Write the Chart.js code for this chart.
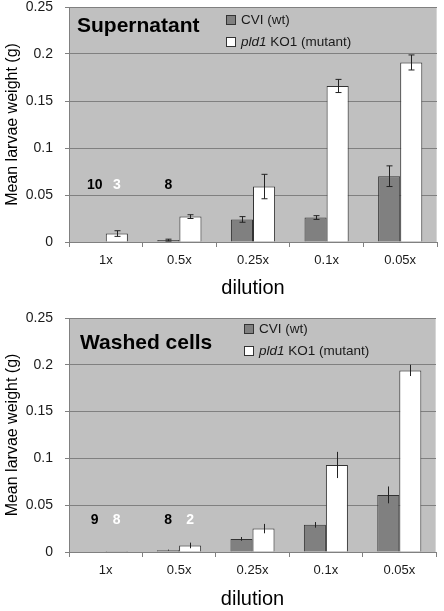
<!DOCTYPE html>
<html>
<head>
<meta charset="utf-8">
<script src="https://cdn.jsdelivr.net/npm/chart.js@4/dist/chart.umd.min.js"></script>
<style>
    body { margin: 0; background: #ffffff; }
    #top { position: absolute; left: 0; top: 0; }
    #bottom { position: absolute; left: 0; top: 300px; }
</style>
</head>
<body>
<canvas id="top" width="444" height="300"></canvas>
<canvas id="bottom" width="444" height="311"></canvas>
<script>
var categories = ['1x', '0.5x', '0.25x', '0.1x', '0.05x'];
var seriesNames = ['CVI (wt)', 'pld1 KO1 (mutant)'];
var yTicks = [0, 0.05, 0.1, 0.15, 0.2, 0.25];

// Supernatant
var supCvi = [0.0005, 0.002, 0.024, 0.026, 0.070];
var supCviErr = [0, 0.001, 0.003, 0.002, 0.011];
var supMut = [0.009, 0.027, 0.059, 0.166, 0.191];
var supMutErr = [0.003, 0.002, 0.013, 0.007, 0.008];
var supCviN = ['10', '8', '', '', ''];
var supMutN = ['3', '', '', '', ''];

// Washed cells
var washCvi = [0.0005, 0.002, 0.014, 0.029, 0.061];
var washCviErr = [0, 0.0005, 0.002, 0.003, 0.009];
var washMut = [0.001, 0.007, 0.025, 0.093, 0.194];
var washMutErr = [0, 0.003, 0.005, 0.014, 0.006];
var washCviN = ['9', '8', '', '', ''];
var washMutN = ['8', '2', '', '', ''];

Chart.defaults.font.family = '"Liberation Sans", Arial, sans-serif';
Chart.defaults.color = '#1a1a1a';

var panelPlugin = {
    id: 'panel',
    beforeDraw: function(chart) {
        var a = chart.chartArea, ctx = chart.ctx;
        ctx.save();
        ctx.fillStyle = '#c0c0c0';
        ctx.fillRect(a.left, a.top, a.right - a.left, a.bottom - a.top);
        ctx.strokeStyle = '#d6d6d6';
        ctx.lineWidth = 1;
        ctx.beginPath();
        ctx.moveTo(a.left, a.top + 0.5);
        ctx.lineTo(a.right - 0.5, a.top + 0.5);
        ctx.lineTo(a.right - 0.5, a.bottom);
        ctx.stroke();
        ctx.restore();
    },
    afterDatasetsDraw: function(chart) {
        var o = chart.options.plugins.panel, ctx = chart.ctx;
        var y = chart.scales.y;
        ctx.save();
        // error bars
        ctx.strokeStyle = '#222';
        ctx.lineWidth = 1;
        chart.data.datasets.forEach(function(ds, i) {
            var meta = chart.getDatasetMeta(i);
            meta.data.forEach(function(bar, j) {
                var e = ds.err[j];
                if (!e) return;
                var x = Math.round(bar.x) + 0.5;
                var y1 = y.getPixelForValue(ds.data[j] + e);
                var y2 = y.getPixelForValue(ds.data[j] - e);
                ctx.beginPath();
                ctx.moveTo(x, y1);
                ctx.lineTo(x, y2);
                if (o.cap) {
                    ctx.moveTo(x - o.cap, y1);
                    ctx.lineTo(x + o.cap, y1);
                    ctx.moveTo(x - o.cap, y2);
                    ctx.lineTo(x + o.cap, y2);
                }
                ctx.stroke();
            });
        });
        // sample counts
        ctx.font = 'bold 14px "Liberation Sans", Arial, sans-serif';
        ctx.textAlign = 'center';
        ctx.textBaseline = 'middle';
        chart.data.datasets.forEach(function(ds, i) {
            var meta = chart.getDatasetMeta(i);
            ctx.fillStyle = ds.countColor;
            meta.data.forEach(function(bar, j) {
                if (ds.counts[j]) ctx.fillText(ds.counts[j], bar.x, y.getPixelForValue(o.countY));
            });
        });
        // panel title
        ctx.fillStyle = '#000';
        ctx.textAlign = 'left';
        ctx.font = 'bold 21px "Liberation Sans", Arial, sans-serif';
        ctx.fillText(o.title, o.titleX, o.titleY);
        // legend
        chart.data.datasets.forEach(function(ds, i) {
            var ly = o.legendY + i * 22;
            ctx.fillStyle = ds.backgroundColor;
            ctx.fillRect(o.legendX, ly - 5, 10, 10);
            ctx.strokeStyle = '#333';
            ctx.strokeRect(o.legendX + 0.5, ly - 4.5, 9, 9);
            ctx.fillStyle = '#1a1a1a';
            var tx = o.legendX + 15;
            var label = ds.label;
            if (label.indexOf('pld1') === 0) {
                ctx.font = 'italic 13.5px "Liberation Sans", Arial, sans-serif';
                ctx.fillText('pld1', tx, ly);
                tx += ctx.measureText('pld1').width;
                label = label.substring(4);
            }
            ctx.font = '13.5px "Liberation Sans", Arial, sans-serif';
            ctx.fillText(label, tx, ly);
        });
        ctx.restore();
    }
};

function makeChart(id, cvi, cviErr, mut, mutErr, cviN, mutN, opts) {
    var ctx = document.getElementById(id);
    return new Chart(ctx, {
        type: 'bar',
        data: {
            labels: categories,
            datasets: [
                {
                    label: seriesNames[0],
                    data: cvi,
                    err: cviErr,
                    counts: cviN,
                    countColor: '#000',
                    backgroundColor: '#808080',
                    borderColor: '#333',
                    borderWidth: 1
                },
                {
                    label: seriesNames[1],
                    data: mut,
                    err: mutErr,
                    counts: mutN,
                    countColor: '#ffffff',
                    backgroundColor: '#ffffff',
                    borderColor: '#333',
                    borderWidth: 1
                }
            ]
        },
        options: {
            responsive: false,
            animation: false,
            devicePixelRatio: 1,
            layout: { padding: { top: opts.padTop, right: opts.padRight, left: 0, bottom: 0 } },
            datasets: { bar: { categoryPercentage: 0.6, barPercentage: 1.0 } },
            plugins: {
                legend: { display: false },
                tooltip: { enabled: false },
                panel: opts.panel
            },
            scales: {
                x: {
                    grid: { display: true, drawOnChartArea: false, offset: true, tickLength: 5, color: '#808080' },
                    border: { color: '#808080' },
                    ticks: { font: { size: 13 }, padding: 6, maxRotation: 0 },
                    title: { display: true, text: 'dilution', font: { size: 20 }, padding: 0, color: '#000' },
                    afterFit: function(s) { s.height = opts.xHeight; }
                },
                y: {
                    min: 0,
                    max: 0.25,
                    afterBuildTicks: function(s) { s.ticks = yTicks.map(function(v) { return { value: v }; }); },
                    grid: { color: '#808080', tickLength: 4 },
                    border: { color: '#808080' },
                    ticks: {
                        font: { size: 14 },
                        padding: 12,
                        callback: function(v) { return String(v); }
                    },
                    title: { display: true, text: 'Mean larvae weight (g)', font: { size: 16 }, padding: { top: 3, bottom: 0 }, color: '#000' },
                    afterFit: function(s) {
                        s.width = 69;
                        s.paddingTop = 0;
                        s.paddingBottom = 0;
                    }
                }
            }
        },
        plugins: [panelPlugin]
    });
}

makeChart('top', supCvi, supCviErr, supMut, supMutErr, supCviN, supMutN, {
    padTop: 7, padRight: 7, xHeight: 58,
    panel: { title: 'Supernatant', titleX: 77, titleY: 26, legendX: 226, legendY: 20, countY: 0.06, cap: 3 }
});

makeChart('bottom', washCvi, washCviErr, washMut, washMutErr, washCviN, washMutN, {
    padTop: 18, padRight: 8, xHeight: 59,
    panel: { title: 'Washed cells', titleX: 80, titleY: 43, legendX: 244, legendY: 29, countY: 0.034, cap: 0 }
});
</script>
</body>
</html>
